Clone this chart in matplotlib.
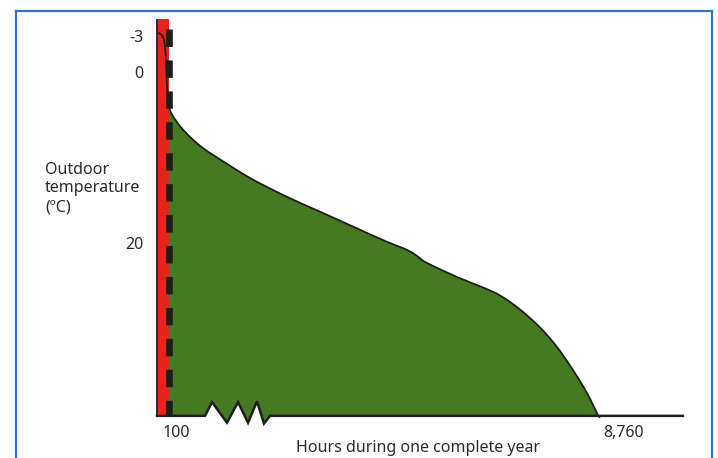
import matplotlib
matplotlib.use("Agg")
import matplotlib.pyplot as plt
from matplotlib.lines import Line2D
from matplotlib.path import Path
from matplotlib.patches import PathPatch
import numpy as np

plt.rcParams['font.family'] = ['Noto Sans', 'DejaVu Sans']

# load duration curve (schematic): hours of the year vs outdoor temperature
hours = [26, 93, 138, 164, 178, 192, 212, 243, 291, 390, 520, 718, 916, 1181,
         1839, 2565, 3223, 3882, 4542, 4871, 5068, 5201, 5339,
         5933, 6447, 6783, 7178, 7574, 7910, 8226, 8503, 8721, 8760]
temps = [-4.71, -4.44, -3.86, -2.69, -1.17, 0.82, 2.77, 4.01, 4.80, 5.70, 6.67,
         7.84, 8.81, 9.86, 12.28, 14.47, 16.22, 17.98, 19.73,
         20.50, 21.09, 21.67, 22.22, 23.86, 25.09, 26.02, 27.66, 29.77, 32.05,
         34.74, 37.43, 40.0, 40.1]

base_temp = 40.1          # bottom of the chart
top_temp = -6.3           # top of the temperature axis
axis_end = 10400          # right end of the hours axis
red_end = 243             # hours covered by the red band
dash_hours = 245          # dashed limit line

# axis break zigzag on the hours axis
zig_x = [949, 1088, 1384, 1602, 1800, 1978, 2116, 2235]
zig_y = [40.1, 38.5, 40.9, 38.5, 40.9, 38.4, 41.0, 40.1]

y_tick_pos = [-4.1, 0.1, 20.1]
y_tick_labels = ['-3', '0', '20']
x_tick_pos = [375, 9230]
x_tick_labels = ['100', '8,760']

green = '#467a22'
red = '#e4261a'
ink = '#1e1e1e'
text_col = '#2b2b2b'


def smooth_path(xs, ys):
    """Catmull-Rom through the points, as cubic bezier path segments"""
    p = np.column_stack([xs, ys]).astype(float)
    verts = [p[0]]
    codes = [Path.MOVETO]
    n = len(p)
    for i in range(n - 1):
        p0 = p[max(i - 1, 0)]
        p1 = p[i]
        p2 = p[i + 1]
        p3 = p[min(i + 2, n - 1)]
        c1 = p1 + (p2 - p0) / 6
        c2 = p2 - (p3 - p1) / 6
        verts += [c1, c2, p2]
        codes += [Path.CURVE4] * 3
    return verts, codes


fig = plt.figure(figsize=(7.18, 4.58), dpi=100)
ax = fig.add_axes([0, 0, 1, 1])
ax.set_xlim(-3105, 11094)
ax.set_ylim(45.03, -8.538)
ax.axis('off')

# green area: curve, then back along the baseline with the zigzag
cv, cc = smooth_path(hours, temps)
back_x = [hours[-1]] + zig_x[::-1] + [hours[0]]
back_y = [base_temp] + zig_y[::-1] + [base_temp]
fv = cv + [np.array([x, y]) for x, y in zip(back_x, back_y)]
fc = cc + [Path.LINETO] * len(back_x)
fv.append(cv[0])
fc.append(Path.CLOSEPOLY)
ax.add_patch(PathPatch(Path(fv, fc), facecolor=green, lw=0, zorder=1))

# red band and dashed limit line
ax.fill_betweenx([top_temp, base_temp], 0, red_end, color=red, lw=0, zorder=2)
ax.plot([dash_hours, dash_hours], [-5.15, base_temp], color=ink, lw=4.8,
        dashes=(2.62, 2.02), solid_capstyle='butt', zorder=3)

# curve
ax.add_patch(PathPatch(Path(cv, cc), facecolor='none', edgecolor=ink,
                       lw=1.3, zorder=4))

# axes: vertical line, baseline with zigzag
ax.plot([0, 0], [top_temp, base_temp], color='#2a2a2a', lw=1.4, zorder=5,
        solid_capstyle='butt')
line_x = [0] + zig_x + [axis_end]
line_y = [base_temp] + zig_y + [base_temp]
ax.plot(line_x, line_y, color=ink, lw=1.8, zorder=5, solid_joinstyle='miter')

# labels
for p, lab in zip(y_tick_pos, y_tick_labels):
    ax.text(-260, p, lab, ha='right', va='center', fontsize=11.5, color=text_col)
for p, lab in zip(x_tick_pos, x_tick_labels):
    ax.text(p, 42.1, lab, ha='center', va='center', fontsize=11.5, color=text_col)
ax.text(-2215, 13.5, 'Outdoor\ntemperature\n(ºC)', ha='left', va='center',
        fontsize=11.5, color=text_col, linespacing=1.22)
ax.text(5165, 43.9, 'Hours during one complete year', ha='center', va='center',
        fontsize=11.5, color=text_col)

# blue frame around the figure
frame = '#2f72c0'
fig.add_artist(Line2D([15.5 / 718, 15.5 / 718], [0, 1 - 11 / 458], color=frame, lw=1.6))
fig.add_artist(Line2D([15.5 / 718, 712 / 718], [1 - 11 / 458, 1 - 11 / 458], color=frame, lw=1.6))
fig.add_artist(Line2D([712 / 718, 712 / 718], [0, 1 - 11 / 458], color=frame, lw=1.6))

fig.savefig('out.png', dpi=100, facecolor='white')
